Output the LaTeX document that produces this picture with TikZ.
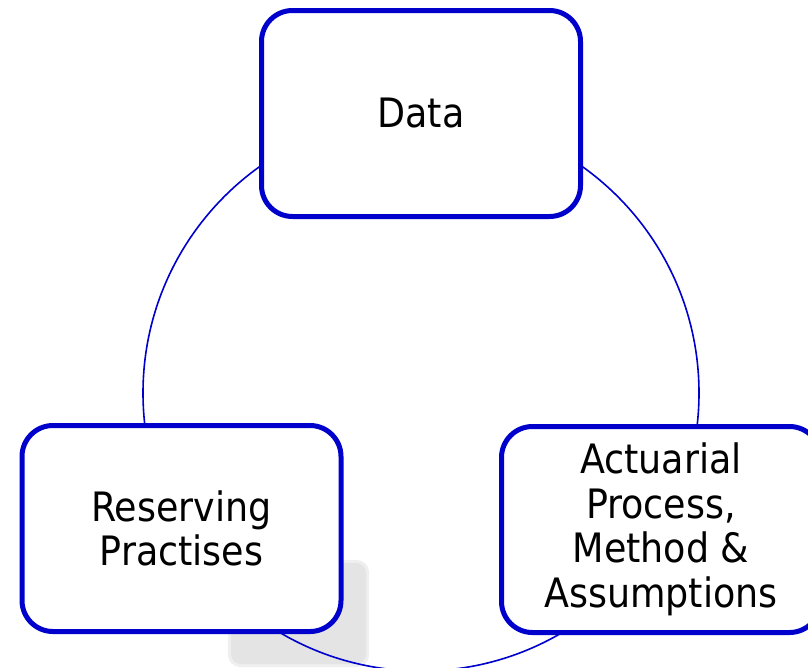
\documentclass[tikz,border=0pt]{standalone}
\usepackage{fontspec}
\setmainfont{DejaVu Sans Condensed}
\definecolor{boxblue}{HTML}{0000CC}
\definecolor{greypatch}{HTML}{E4E4E4}
\definecolor{greyrim}{HTML}{EFEFEF}
\tikzset{
  stagebox/.style={draw=boxblue, line width=5pt, fill=white, rounded corners=31pt,
    minimum width=319pt, minimum height=206pt, inner sep=0pt, align=center,
    text=black, font=\fontsize{40.5}{44.5}\selectfont},
  ring/.style={draw=boxblue, line width=1.6pt}
}
\begin{document}
\begin{tikzpicture}[x=1pt,y=-1pt]
  \useasboundingbox (0,0) rectangle (808,667);
  % soft grey patch behind the lower left box
  \fill[greyrim, rounded corners=12pt] (228,560) rectangle (369,667);
  \fill[greypatch, rounded corners=10pt] (231,563) rectangle (366,664);
  % the cycle ring
  \coordinate (hub) at (421,393);
  \draw[ring] (hub) circle[radius=278];
  % the three stages
  \node[stagebox] (data) at (421,113.5) {Data};
  \node[stagebox] (reserve) at (181.5,528.5) {Reserving\\Practises};
  \node[stagebox] (actuarial) at (661,529.5) {Actuarial\\Process,\\Method \&\\Assumptions};
\end{tikzpicture}
\end{document}
